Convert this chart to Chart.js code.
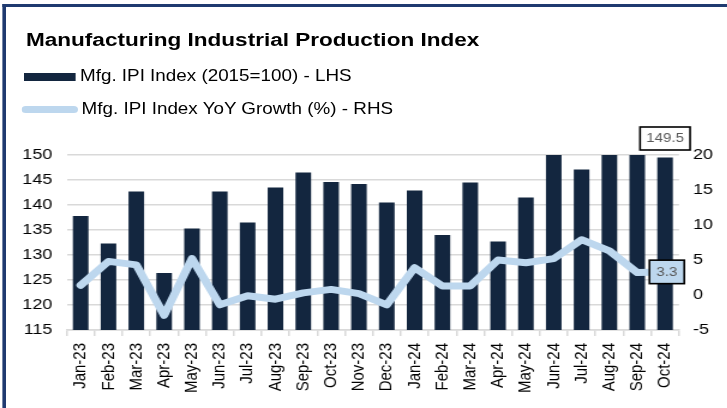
<!DOCTYPE html>
<html>
<head>
<meta charset="utf-8">
<script src="https://cdn.jsdelivr.net/npm/chart.js@4.4.1/dist/chart.umd.min.js"></script>
<style>
  html, body { margin: 0; padding: 0; background: #fff; overflow: hidden; }
  body { width: 727px; height: 408px; position: relative; }
  #wrap {
    position: absolute; left: 0; top: 0; width: 606px; height: 408px;
    transform: scaleX(1.2); transform-origin: 0 0;
    font-family: "Liberation Sans", Arial, sans-serif;
  }
  #frame {
    position: absolute; left: 2.4px; top: 4px; width: 700px; height: 500px;
    border-top: 3.3px solid #1f3a70; border-left: 3.3px solid #1f3a70;
  }
  #chart { position: absolute; left: 0; top: 0; }
  .title {
    position: absolute; left: 21.7px; top: 30.8px; font-size: 18.8px; line-height: 1;
    font-weight: bold; color: #000; white-space: nowrap;
  }
  .leg { position: absolute; font-size: 15.7px; line-height: 1; color: #000; white-space: nowrap; }
  .sw-bar { position: absolute; left: 20px; top: 73.3px; width: 42.5px; height: 7.4px; background: #13263f; }
  .sw-line { position: absolute; left: 18px; top: 105.8px; width: 47px; height: 7px; background: #bdd7ee; border-radius: 3.5px; }
</style>
</head>
<body>
<div id="wrap">
  <div id="frame"></div>
  <canvas id="chart" width="606" height="408"></canvas>
  <div class="title">Manufacturing Industrial Production Index</div>
  <div class="sw-bar"></div>
  <div class="leg" style="left:66.7px; top:68.4px;">Mfg. IPI Index (2015=100) - LHS</div>
  <div class="sw-line"></div>
  <div class="leg" style="left:68px; top:101.2px;">Mfg. IPI Index YoY Growth (%) - RHS</div>
</div>
<script>
// Dados
const months = ['Jan-23', 'Feb-23', 'Mar-23', 'Apr-23', 'May-23', 'Jun-23', 'Jul-23', 'Aug-23',
  'Sep-23', 'Oct-23', 'Nov-23', 'Dec-23', 'Jan-24', 'Feb-24', 'Mar-24', 'Apr-24', 'May-24',
  'Jun-24', 'Jul-24', 'Aug-24', 'Sep-24', 'Oct-24'];
const ipiIndex = [137.8, 132.3, 142.7, 126.4, 135.3, 142.7, 136.5, 143.5, 146.5, 144.6, 144.2,
  140.5, 142.9, 134.0, 144.5, 132.7, 141.5, 151.8, 147.1, 151.2, 150.4, 149.5];
const yoyGrowth = [1.4, 4.8, 4.3, -2.9, 5.2, -1.4, -0.1, -0.6, 0.3, 0.8, 0.2,
  -1.4, 3.9, 1.3, 1.3, 5.0, 4.6, 5.2, 7.9, 6.3, 3.2, 3.3];
const lhsTicks = [115, 150, 5];   // min, max, passo
const rhsTicks = [-5, 20, 5];

Chart.defaults.font.family = '"Liberation Sans", Arial, sans-serif';
Chart.defaults.color = '#000';

function drawBox(ctx, cx, cy, w, h, text, fill) {
    ctx.save();
    ctx.fillStyle = fill;
    ctx.fillRect(cx - w / 2, cy - h / 2, w, h);
    ctx.strokeStyle = '#000';
    ctx.lineWidth = 1.6;
    ctx.strokeRect(cx - w / 2, cy - h / 2, w, h);
    ctx.fillStyle = '#595959';
    ctx.font = '12.5px "Liberation Sans", Arial, sans-serif';
    ctx.textAlign = 'center';
    ctx.textBaseline = 'middle';
    ctx.fillText(text, cx, cy + 0.5);
    ctx.restore();
}

// Rótulos do último ponto
const lastLabels = {
    id: 'lastLabels',
    afterDatasetsDraw: function (chart) {
        var i = months.length - 1;
        var bar = chart.getDatasetMeta(0).data[i];
        var pt = chart.getDatasetMeta(1).data[i];
        drawBox(chart.ctx, bar.x, bar.y - 7.5 - 11.5, 41.7, 23, ipiIndex[i].toFixed(1), '#fff');
        drawBox(chart.ctx, pt.x + 1.5, pt.y, 29, 23.5, yoyGrowth[i].toFixed(1), '#bdd7ee');
    }
};

new Chart(document.getElementById('chart'), {
    type: 'bar',
    data: {
        labels: months,
        datasets: [{
            type: 'bar',
            label: 'Mfg. IPI Index (2015=100) - LHS',
            data: ipiIndex,
            backgroundColor: '#13263f',
            barPercentage: 0.56,
            categoryPercentage: 1,
            yAxisID: 'y',
            order: 2,
            clip: 0
        }, {
            type: 'line',
            label: 'Mfg. IPI Index YoY Growth (%) - RHS',
            data: yoyGrowth,
            borderColor: '#bdd7ee',
            backgroundColor: '#bdd7ee',
            borderWidth: 7,
            borderCapStyle: 'round',
            borderJoinStyle: 'round',
            pointRadius: 0,
            tension: 0,
            yAxisID: 'y1',
            order: 1
        }]
    },
    options: {
        responsive: false,
        animation: false,
        layout: { padding: { left: 18.6, right: 11.8, top: 155, bottom: 15 } },
        plugins: { legend: { display: false }, tooltip: { enabled: false } },
        scales: {
            x: {
                grid: { display: true, drawOnChartArea: false, drawTicks: true, tickLength: 6, color: '#d9d9d9', lineWidth: 1.5 },
                border: { display: true, color: '#d9d9d9', width: 1.5 },
                ticks: { minRotation: 90, maxRotation: 90, padding: 7, font: { size: 15 }, autoSkip: false },
                afterFit: function (scale) { scale.height = 63; }
            },
            y: {
                position: 'left',
                min: lhsTicks[0], max: lhsTicks[1],
                grid: { color: '#d9d9d9', lineWidth: 1.5, drawTicks: false },
                border: { display: false },
                ticks: { stepSize: lhsTicks[2], padding: 12, font: { size: 15 } },
                afterFit: function (scale) { scale.width = 37; }
            },
            y1: {
                position: 'right',
                min: rhsTicks[0], max: rhsTicks[1],
                grid: { display: false, drawTicks: false },
                border: { display: false },
                ticks: { stepSize: rhsTicks[2], padding: 11.7, font: { size: 15 } },
                afterFit: function (scale) { scale.width = 28.4; }
            }
        }
    },
    plugins: [lastLabels]
});
</script>
</body>
</html>
